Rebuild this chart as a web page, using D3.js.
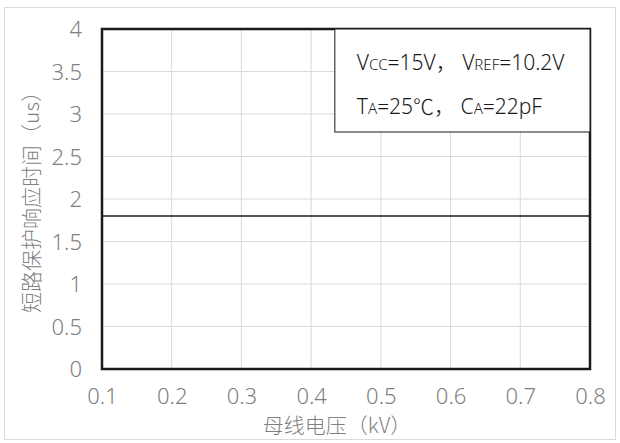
<!DOCTYPE html>
<html>
<head>
<meta charset="utf-8">
<script src="https://cdn.jsdelivr.net/npm/d3@7"></script>
<style>
  body { margin: 0; background: #fff; }
  text { font-family: "Noto Sans", "Noto Sans CJK SC", sans-serif; font-weight: 300; white-space: pre; }
  .cjk { font-family: "Noto Sans CJK SC", sans-serif; text-spacing-trim: space-all; font-feature-settings: "chws" 0, "halt" 0; }
</style>
</head>
<body>
<div id="chart"></div>
<script>
// data
var voltage = [0.1, 0.2, 0.3, 0.4, 0.5, 0.6, 0.7, 0.8];
var responseTime = [1.8, 1.8, 1.8, 1.8, 1.8, 1.8, 1.8, 1.8];
var xTicks = [0.1, 0.2, 0.3, 0.4, 0.5, 0.6, 0.7, 0.8];
var yTicks = [0, 0.5, 1, 1.5, 2, 2.5, 3, 3.5, 4];

var width = 620, height = 443;
var margin = { top: 29, right: 30, bottom: 74, left: 102 };

var svg = d3.select("#chart").append("svg")
    .attr("width", width)
    .attr("height", height);

// outer chart frame
svg.append("rect")
    .attr("x", 4.5).attr("y", 7.5)
    .attr("width", 611).attr("height", 432)
    .attr("fill", "none")
    .attr("stroke", "#d9d9d9");

var x = d3.scaleLinear().domain([0.1, 0.8]).range([margin.left, width - margin.right]);
var y = d3.scaleLinear().domain([0, 4]).range([height - margin.bottom, margin.top]);

var grid = svg.append("g");
grid.selectAll(".vg")
    .data(xTicks)
    .enter().append("line")
    .attr("x1", function (d) { return x(d); })
    .attr("x2", function (d) { return x(d); })
    .attr("y1", y(0)).attr("y2", y(4))
    .attr("stroke", "#d9d9d9");
grid.selectAll(".hg")
    .data(yTicks)
    .enter().append("line")
    .attr("y1", function (d) { return y(d); })
    .attr("y2", function (d) { return y(d); })
    .attr("x1", x(0.1)).attr("x2", x(0.8))
    .attr("stroke", "#d9d9d9");

// axes (labels only)
var xAxis = svg.append("g")
    .attr("transform", "translate(0," + (y(0) + 16) + ")")
    .call(d3.axisBottom(x).tickValues(xTicks).tickSize(0).tickFormat(d3.format(".1f")));
var yAxis = svg.append("g")
    .attr("transform", "translate(" + (x(0.1) - 17) + ",0)")
    .call(d3.axisLeft(y).tickValues(yTicks).tickSize(0).tickFormat(function (d) { return d; }));

[xAxis, yAxis].forEach(function (a) {
    a.select(".domain").remove();
    a.attr("font-family", null).attr("font-size", null);
    a.selectAll("text")
        .attr("fill", "#7f7f7f")
        .style("font-size", "22px");
});
yAxis.selectAll("text").attr("dy", "0.35em");

// the data line
var line = d3.line()
    .x(function (d, i) { return x(voltage[i]); })
    .y(function (d) { return y(d); });

svg.append("path")
    .datum(responseTime)
    .attr("d", line)
    .attr("fill", "none")
    .attr("stroke", "#1a1a1a")
    .attr("stroke-width", 1.5);

// plot frame
svg.append("rect")
    .attr("x", x(0.1)).attr("y", y(4))
    .attr("width", x(0.8) - x(0.1))
    .attr("height", y(0) - y(4))
    .attr("fill", "none")
    .attr("stroke", "#1a1a1a")
    .attr("stroke-width", 2.5);

// conditions box
var box = svg.append("g").attr("transform", "translate(" + x(0.434) + "," + y(4) + ")");
box.append("rect")
    .attr("width", x(0.8) - x(0.434))
    .attr("height", 103)
    .attr("fill", "#fff")
    .attr("stroke", "#1a1a1a")
    .attr("stroke-width", 1);

var t1 = box.append("text").attr("x", 22).attr("y", 41).attr("fill", "#1a1a1a").style("font-size", "21px");
t1.append("tspan").text("V");
t1.append("tspan").style("font-size", "15px").text("CC");
t1.append("tspan").text("=15V");
t1.append("tspan").attr("class", "cjk").text("，");
t1.append("tspan").text(" V");
t1.append("tspan").style("font-size", "15px").text("REF");
t1.append("tspan").text("=10.2V");

var t2 = box.append("text").attr("x", 22).attr("y", 85).attr("fill", "#1a1a1a").style("font-size", "21px");
t2.append("tspan").text("T");
t2.append("tspan").style("font-size", "15px").text("A");
t2.append("tspan").text("=25");
t2.append("tspan").attr("class", "cjk").text("℃，");
t2.append("tspan").text(" C");
t2.append("tspan").style("font-size", "15px").text("A");
t2.append("tspan").text("=22pF");

// axis titles
var xt = svg.append("text")
    .attr("class", "cjk")
    .attr("x", 337)
    .attr("y", 433)
    .attr("text-anchor", "middle")
    .attr("fill", "#7f7f7f")
    .style("font-size", "21px");
xt.append("tspan").text("母线电压");
xt.append("tspan").text("（");
xt.append("tspan").text("kV");
xt.append("tspan").text("）");

var yt = svg.append("text")
    .attr("class", "cjk")
    .attr("transform", "translate(39,197) rotate(-90)")
    .attr("text-anchor", "middle")
    .attr("fill", "#7f7f7f")
    .style("font-size", "21px");
yt.append("tspan").text("短路保护响应时间");
yt.append("tspan").text("（");
yt.append("tspan").text("us");
yt.append("tspan").text("）");
</script>
</body>
</html>
